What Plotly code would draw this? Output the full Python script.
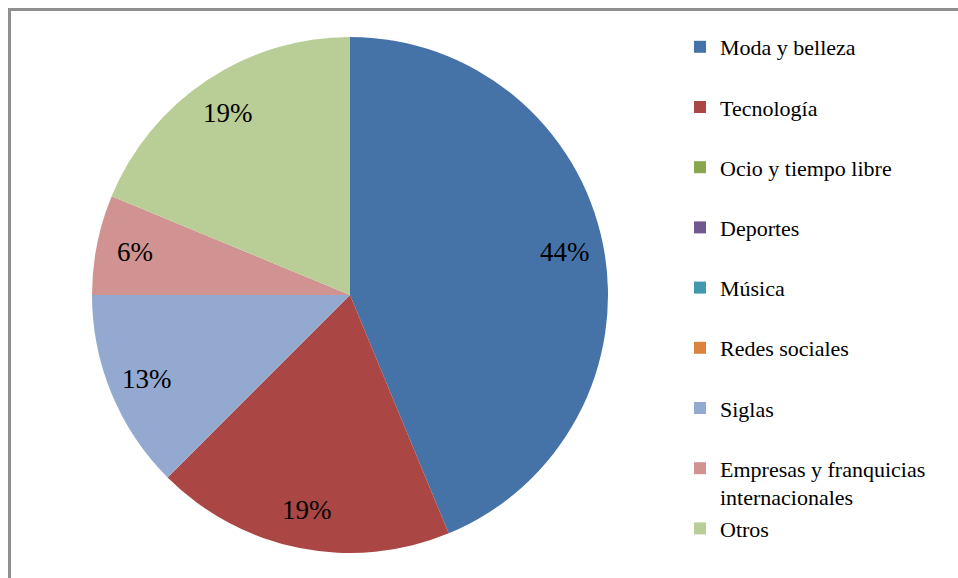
import math
import plotly.graph_objects as go

categorias = ["Moda y belleza", "Tecnología", "Ocio y tiempo libre", "Deportes",
              "Música", "Redes sociales", "Siglas",
              "Empresas y franquicias<br>internacionales", "Otros"]
valores = [7, 3, 0, 0, 0, 0, 2, 1, 3]
colores = ["#4572A7", "#AA4643", "#89A54E", "#71588F", "#4198AF",
           "#DB843D", "#93A9CF", "#D19392", "#B9CD96"]

W, H = 958, 578
SERIF = "Liberation Serif, Times New Roman, serif"

# pie area in pixels
dom_x = [92 / W, 608 / W]
dom_y = [1 - 553 / H, 1 - 37 / H]
cx = (dom_x[0] + dom_x[1]) / 2 * W
cy = (1 - (dom_y[0] + dom_y[1]) / 2) * H
R = min((dom_x[1] - dom_x[0]) * W, (dom_y[1] - dom_y[0]) * H) / 2

# every legend entry takes two lines so the spacing matches the original
etiquetas = [c if "<br>" in c else c + "<br> " for c in categorias]

fig = go.Figure(go.Pie(
    labels=etiquetas, values=valores, sort=False, direction="clockwise",
    marker=dict(colors=colores, line=dict(width=0)),
    textinfo="none",
    domain=dict(x=dom_x, y=dom_y),
    hoverinfo="label+value+percent",
))

# percentage labels placed like Excel does, at 0.85 of the radius
total = sum(valores)
acum = 0
anots = []
for v in valores:
    if v > 0:
        ang = 2 * math.pi * (acum + v / 2) / total
        px_ = cx + 0.85 * R * math.sin(ang)
        py_ = cy - 0.85 * R * math.cos(ang)
        anots.append(dict(x=px_ / W, y=1 - py_ / H, xref="paper", yref="paper",
                          xanchor="center", yanchor="middle",
                          text=f"{round(100 * v / total + 1e-9)}%", showarrow=False,
                          font=dict(family=SERIF, size=27, color="black")))
    acum += v

fig.update_layout(
    width=W, height=H,
    margin=dict(l=0, r=0, t=0, b=0),
    paper_bgcolor="white",
    font=dict(family=SERIF, color="black"),
    legend=dict(x=680 / W, xanchor="left", y=1 - 26 / H, yanchor="top",
                valign="top", font=dict(size=22, family=SERIF, color="black"),
                bgcolor="rgba(0,0,0,0)"),
    annotations=anots,
    shapes=[dict(type="rect", xref="paper", yref="paper",
                 x0=9.5 / W, x1=1.02, y0=-0.02, y1=1 - 9.5 / H,
                 line=dict(color="#8f8f8f", width=3))],
)

fig.write_html("out.html", config={"displayModeBar": False},
               post_script="document.body.style.margin='0';")
